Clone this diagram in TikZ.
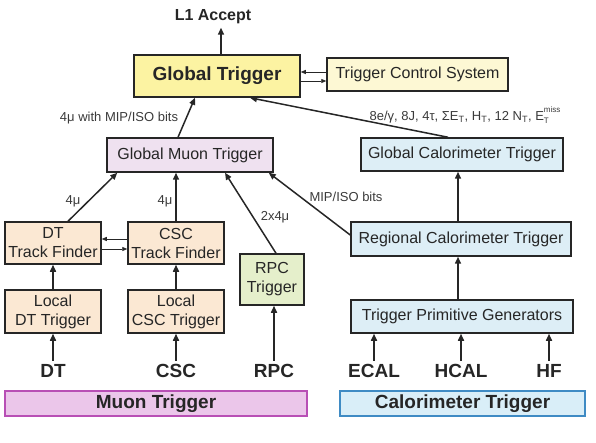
\documentclass[tikz,border=0pt]{standalone}
\usepackage{fontspec}
\setmainfont{Liberation Sans}
\usetikzlibrary{positioning, arrows.meta, calc}
\definecolor{gtfill}{HTML}{FCF3A2}
\definecolor{tcsfill}{HTML}{FDF8D4}
\definecolor{gmtfill}{HTML}{EFE1F0}
\definecolor{calofill}{HTML}{DDEEF6}
\definecolor{tffill}{HTML}{FBE8D3}
\definecolor{rpcfill}{HTML}{E5EFCB}
\definecolor{muonbar}{HTML}{EBC6EA}
\definecolor{muonedge}{HTML}{B84FB5}
\definecolor{calobar}{HTML}{D9EEF8}
\definecolor{caloedge}{HTML}{3F8BC4}
\definecolor{inkdark}{HTML}{262626}
\definecolor{lblgray}{HTML}{3A3A3A}

\begin{document}
\begin{tikzpicture}[
    x=1pt, y=-1pt,
    trigbox/.style={
        draw=inkdark, line width=1.5pt, fill=#1, inner sep=1pt, align=center,
        text=inkdark, font=\fontsize{16}{19}\selectfont
    },
    bigtxt/.style={
        font=\fontsize{19}{22}\selectfont\bfseries, text=inkdark
    },
    barbox/.style={
        draw=#1, line width=1.5pt, inner sep=0pt, minimum height=25pt,
        font=\fontsize{19}{22}\selectfont\bfseries, text=inkdark
    },
    lbl/.style={
        font=\fontsize{13}{15}\selectfont, text=lblgray
    },
    flow/.style={
        -{Triangle[length=7pt, width=6pt]}, line width=1.5pt, draw=inkdark
    },
    handshake/.style={
        -{Triangle[length=5pt, width=4pt]}, line width=0.8pt, draw=inkdark
    }
]

\useasboundingbox (0,0) rectangle (596,443);

% -- Top level --
\node[trigbox=gtfill, minimum width=166pt, minimum height=42pt, bigtxt] (gt) at (217,76) {Global Trigger};
\node[trigbox=tcsfill, minimum width=181pt, minimum height=33pt] (tcs) at (417.5,74.5) {Trigger Control System};
\node[font=\fontsize{16}{19}\selectfont\bfseries, text=inkdark] (l1) at (213,17) {L1 Accept};

% -- Muon side --
\node[trigbox=gmtfill, minimum width=166pt, minimum height=34pt] (gmt) at (190,155) {Global Muon Trigger};
\node[trigbox=tffill, minimum width=96pt, minimum height=42pt] (dttf) at (53,243) {DT\\Track Finder};
\node[trigbox=tffill, minimum width=96pt, minimum height=42pt] (csctf) at (176,243) {CSC\\Track Finder};
\node[trigbox=tffill, minimum width=96pt, minimum height=43pt] (ldt) at (53,311.5) {Local\\DT Trigger};
\node[trigbox=tffill, minimum width=96pt, minimum height=43pt] (lcsc) at (176,311.5) {Local\\CSC Trigger};
\node[trigbox=rpcfill, minimum width=64pt, minimum height=51pt] (rpct) at (272,279.5) {RPC\\Trigger};

% -- Calorimeter side --
\node[trigbox=calofill, minimum width=202pt, minimum height=33pt] (gct) at (462,154.5) {Global Calorimeter Trigger};
\node[trigbox=calofill, minimum width=220pt, minimum height=34pt] (rct) at (461,239) {Regional Calorimeter Trigger};
\node[trigbox=calofill, minimum width=222pt, minimum height=33pt] (tpg) at (462,316.5) {Trigger Primitive Generators};

% -- Detector inputs --
\node[bigtxt] (dt) at (53,371) {DT};
\node[bigtxt] (csc) at (176,371) {CSC};
\node[bigtxt] (rpc) at (274,371) {RPC};
\node[bigtxt] (ecal) at (374,371) {ECAL};
\node[bigtxt] (hcal) at (461,371) {HCAL};
\node[bigtxt] (hf) at (549,371) {HF};

% -- Bottom bars --
\node[barbox=muonedge, fill=muonbar, minimum width=302pt] (muonbar) at (156,403.5) {Muon Trigger};
\node[barbox=caloedge, fill=calobar, minimum width=245pt] (calobar) at (462.5,403.5) {Calorimeter Trigger};

% Global Trigger out and control links
\draw[flow] ([xshift=4pt]gt.north) -- ([xshift=4pt]gt.north |- l1.south);
\draw[handshake] (tcs.west |- 0,72) -- (gt.east |- 0,72);
\draw[handshake] (gt.east |- 0,81) -- (tcs.west |- 0,81);

% Muon chain
\draw[flow] ([xshift=-12pt]gmt.north) -- ([xshift=-22pt]gt.south);
\draw[flow] ([xshift=15pt]dttf.north) -- ([xshift=11pt]gmt.south west);
\draw[flow] (csctf.north) -- (csctf.north |- gmt.south);
\draw[flow] ([xshift=4pt]rpct.north) -- ([xshift=35pt]gmt.south);
\draw[handshake] (csctf.west |- 0,239) -- (dttf.east |- 0,239);
\draw[handshake] (dttf.east |- 0,249) -- (csctf.west |- 0,249);
\draw[flow] (ldt.north) -- (dttf.south);
\draw[flow] (lcsc.north) -- (csctf.south);
\draw[flow] (dt.north) -- (ldt.south);
\draw[flow] (csc.north) -- (lcsc.south);
\draw[flow] (rpc.north) -- (rpc.north |- rpct.south);

% Calorimeter chain
\draw[flow] ([xshift=-14pt]gct.north) -- ([xshift=33pt]gt.south);
\draw[flow] ([xshift=-3pt]rct.north) -- ([xshift=-3pt]rct.north |- gct.south);
\draw[flow] ([xshift=-4pt]tpg.north) -- ([xshift=-4pt]tpg.north |- rct.south);
\draw[flow] ([yshift=4pt]rct.west) -- ([xshift=-5pt]gmt.south east);
\draw[flow] (ecal.north) -- (ecal.north |- tpg.south);
\draw[flow] (hcal.north) -- (hcal.north |- tpg.south);
\draw[flow] (hf.north) -- (hf.north |- tpg.south);

% Link labels
\node[lbl] (lblgmt) at (119,118) {4μ with MIP/ISO bits};
\node[lbl] (lbldt) at (73,201) {4μ};
\node[lbl] (lblcsc) at (165,201) {4μ};
\node[lbl] (lblrpc) at (275,217) {2x4μ};
\node[lbl] (lblmip) at (346,197) {MIP/ISO bits};
\node[lbl] (lblgct) at (465,115) {8e/γ, 8J, 4τ, ΣE\textsubscript{T}, H\textsubscript{T}, 12 N\textsubscript{T}, E\rlap{\raisebox{-0.45ex}{\fontsize{8}{8}\selectfont T}}\raisebox{1.2ex}{\fontsize{8}{8}\selectfont miss}};

\end{tikzpicture}
\end{document}
